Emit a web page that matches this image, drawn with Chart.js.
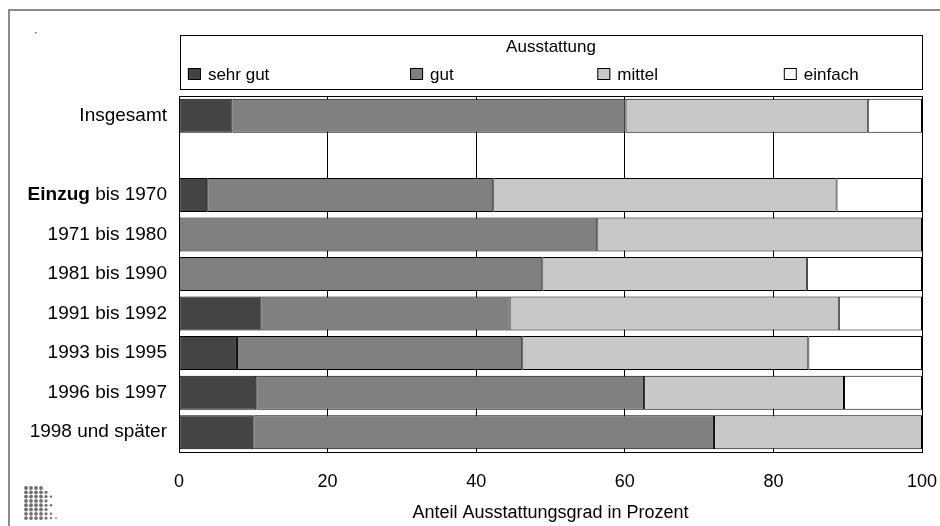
<!DOCTYPE html>
<html lang="de">
<head>
<meta charset="utf-8">
<title>Ausstattung nach Einzugsjahr</title>
<script src="https://cdn.jsdelivr.net/npm/chart.js@4/dist/chart.umd.min.js"></script>
<style>
  html, body { margin: 0; padding: 0; background: #fff; }
  #wrap { position: relative; width: 940px; height: 526px; }
</style>
</head>
<body>
<div id="wrap"><canvas id="ausstattungChart"></canvas></div>
<script>
// Zeilen (leere Zeile trennt "Insgesamt" von den Einzugsjahren)
const categories = ['Insgesamt', '', 'Einzug bis 1970', '1971 bis 1980', '1981 bis 1990',
  '1991 bis 1992', '1993 bis 1995', '1996 bis 1997', '1998 und später'];

// Anteile in Prozent
const sehrGut = [7.2, null, 3.8, 0, 0, 11.1, 7.8, 10.4, 10.0];
const gut     = [52.9, null, 38.5, 56.3, 48.9, 33.4, 38.4, 52.2, 62.0];
const mittel  = [32.6, null, 46.2, 43.7, 35.6, 44.3, 38.5, 26.9, 28.0];
const einfach = [7.3, null, 11.5, 0, 15.5, 11.2, 15.3, 10.5, 0];

const seriesLabels = ['sehr gut', 'gut', 'mittel', 'einfach'];
const xTicks = [0, 20, 40, 60, 80, 100];

const legendTitle = 'Ausstattung';
const axisTitle = 'Anteil Ausstattungsgrad in Prozent';

const FONT = "'Liberation Sans', Arial, Helvetica, sans-serif";
const colors = ['#444444', '#808080', '#c8c8c8', '#ffffff'];

// Rahmen, Legende, Zeilenbeschriftungen und Logo
const decorPlugin = {
  id: 'decor',
  beforeDraw(chart) {
    const { ctx } = chart;
    ctx.save();
    ctx.fillStyle = '#fff';
    ctx.fillRect(0, 0, chart.width, chart.height);
    // Rahmen
    ctx.strokeStyle = '#666';
    ctx.lineWidth = 1.5;
    ctx.beginPath();
    ctx.moveTo(9, chart.height);
    ctx.lineTo(9, 10);
    ctx.lineTo(chart.width, 10);
    ctx.stroke();
    ctx.fillStyle = '#666';
    ctx.fillRect(35, 32, 1.5, 1.5);
    ctx.restore();
  },
  afterDraw(chart) {
    const { ctx, chartArea: a } = chart;
    const yScale = chart.scales.y;
    ctx.save();

    // Plotrahmen oben
    ctx.strokeStyle = '#000';
    ctx.lineWidth = 1;
    ctx.beginPath();
    ctx.moveTo(a.left, a.top + 0.5);
    ctx.lineTo(a.right, a.top + 0.5);
    ctx.stroke();

    // Legende
    const lx = a.left + 1, lw = a.right - a.left - 1;
    const ly = 35, lh = 54;
    ctx.strokeRect(lx + 0.5, ly + 0.5, lw, lh);
    ctx.fillStyle = '#000';
    ctx.font = '17px ' + FONT;
    ctx.textAlign = 'center';
    ctx.textBaseline = 'middle';
    ctx.fillText(legendTitle, lx + lw / 2, ly + 12);
    const slots = [0.012, 0.311, 0.563, 0.814];
    ctx.textAlign = 'left';
    chart.data.datasets.forEach((ds, i) => {
      const sx = a.left + slots[i] * (a.right - a.left);
      ctx.fillStyle = ds.backgroundColor;
      ctx.fillRect(sx, ly + 33, 13, 12);
      ctx.strokeStyle = '#000';
      ctx.strokeRect(sx + 0.5, ly + 33.5, 12, 11);
      ctx.fillStyle = '#000';
      ctx.fillText(ds.label, sx + 20, ly + 40);
    });

    // Zeilenbeschriftungen
    ctx.textAlign = 'right';
    ctx.textBaseline = 'middle';
    const rx = a.left - 12;
    categories.forEach((c, i) => {
      if (!c) return;
      const y = yScale.getPixelForValue(i);
      if (c.startsWith('Einzug')) {
        const rest = c.slice('Einzug'.length);
        ctx.font = '19px ' + FONT;
        ctx.fillText(rest, rx, y);
        const w = ctx.measureText(rest).width;
        ctx.font = 'bold 19px ' + FONT;
        ctx.fillText('Einzug', rx - w, y);
      } else {
        ctx.font = '19px ' + FONT;
        ctx.fillText(c, rx, y);
      }
    });

    // Logo (Punktraster)
    const rows = [4, 5, 6, 5, 6, 5, 6, 7];
    ctx.fillStyle = '#6e6e6e';
    rows.forEach((n, r) => {
      for (let k = 0; k < n; k++) {
        const rad = k < 4 ? 1.9 : 1.9 - (k - 3) * 0.35;
        ctx.beginPath();
        ctx.arc(26 + k * 5, 488 + r * 4.3, rad, 0, Math.PI * 2);
        ctx.fill();
      }
    });
    ctx.restore();
  }
};

const datasets = [sehrGut, gut, mittel, einfach].map((values, i) => ({
  label: seriesLabels[i],
  data: values,
  backgroundColor: colors[i],
  borderColor: '#000',
  borderWidth: 1,
  borderSkipped: false,
  barPercentage: 0.86,
  categoryPercentage: 1.0,
}));

new Chart(document.getElementById('ausstattungChart'), {
  type: 'bar',
  data: { labels: categories, datasets },
  plugins: [decorPlugin],
  options: {
    indexAxis: 'y',
    responsive: true,
    maintainAspectRatio: false,
    animation: false,
    layout: { padding: { left: 179, right: 18, top: 96, bottom: 2 } },
    plugins: {
      legend: { display: false },
      tooltip: { enabled: false },
    },
    scales: {
      x: {
        stacked: true,
        min: 0,
        max: 100,
        afterBuildTicks(scale) {
          scale.ticks = xTicks.map(v => ({ value: v }));
        },
        afterFit(scale) {
          scale.height = 72;
          scale.paddingLeft = 0;
          scale.paddingRight = 0;
        },
        grid: { color: '#000', lineWidth: 1, drawTicks: false },
        border: { color: '#000', width: 1 },
        ticks: {
          color: '#000',
          padding: 19,
          maxRotation: 0,
          font: { family: FONT, size: 18 },
        },
        title: {
          display: true,
          text: axisTitle,
          color: '#000',
          padding: { top: 0, bottom: 0 },
          font: { family: FONT, size: 18 },
        },
      },
      y: {
        stacked: true,
        grid: { display: false, drawTicks: false },
        border: { color: '#000', width: 1 },
        ticks: { display: false },
      },
    },
  },
});
</script>
</body>
</html>
